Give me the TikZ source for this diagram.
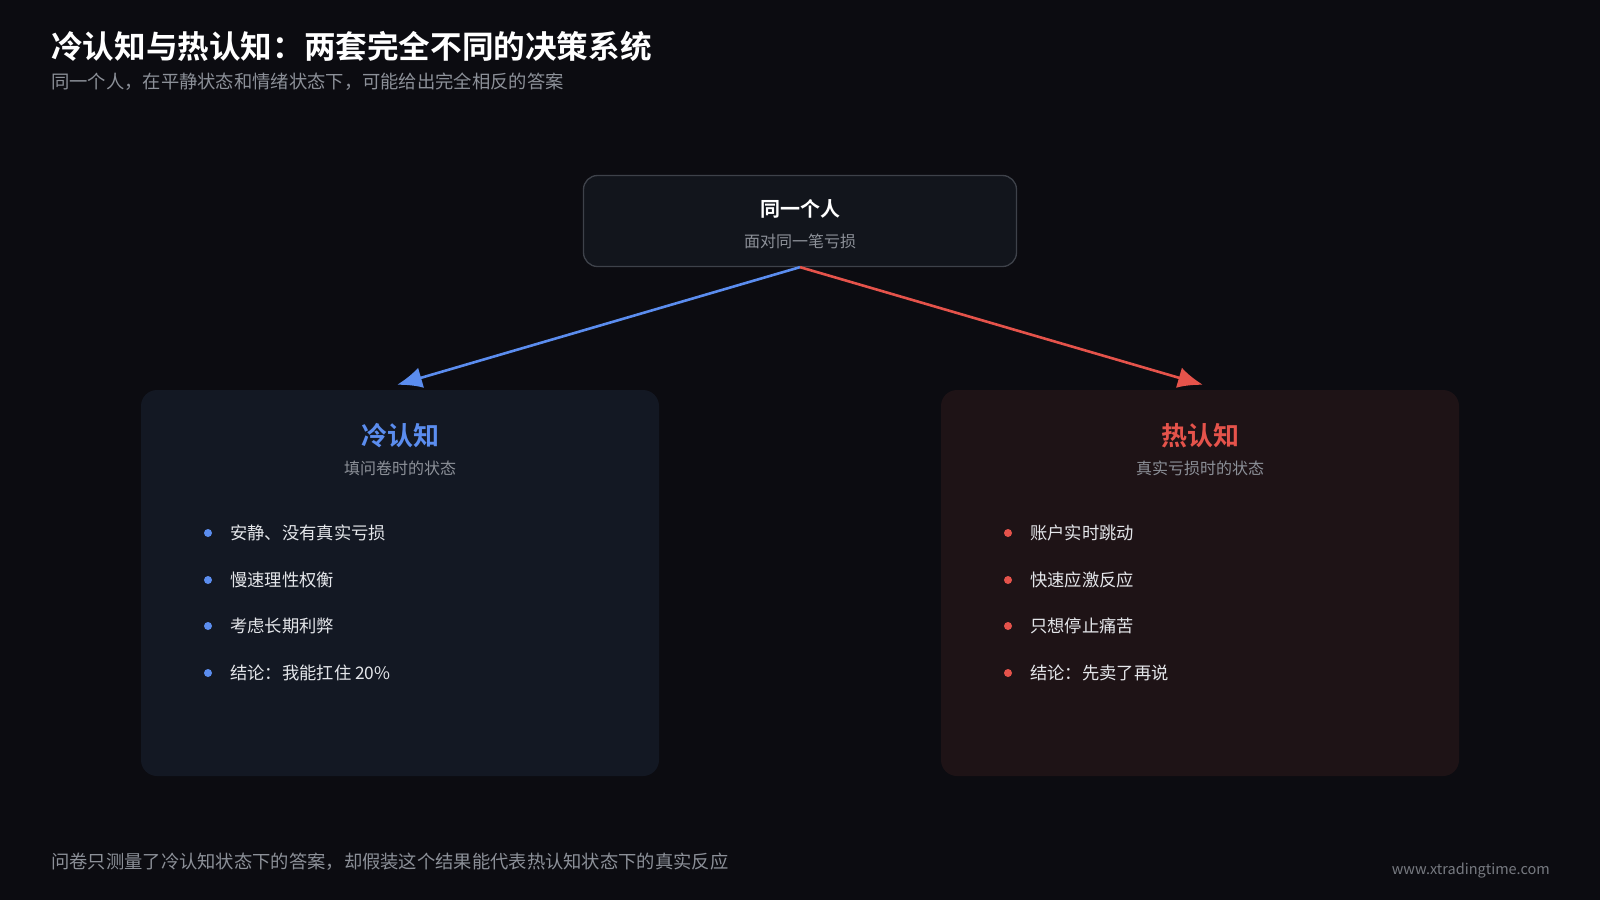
\documentclass[tikz,border=0pt]{standalone}
\usepackage{fontspec}
\setmainfont{Noto Sans CJK SC}[BoldFont={Noto Sans CJK SC Bold}]
\usetikzlibrary{arrows.meta}

\definecolor{bg}{HTML}{0C0C11}
\definecolor{topfill}{HTML}{12151C}
\definecolor{topline}{HTML}{3E424A}
\definecolor{coldfill}{HTML}{131823}
\definecolor{hotfill}{HTML}{1E1316}
\definecolor{coldc}{HTML}{5B8DEF}
\definecolor{hotc}{HTML}{E5534B}
\definecolor{txt}{HTML}{E4E6EA}
\definecolor{muted}{HTML}{8C9098}

\newcommand{\fsz}[1]{\fontsize{#1}{#1}\selectfont}

\tikzset{
  panel/.style={rounded corners=16pt, minimum width=518pt, minimum height=386pt, inner sep=0pt},
  item/.style={anchor=west, inner sep=0pt, text=txt, font=\fsz{17.3}},
  dot/.style={circle, inner sep=0pt, minimum size=8pt},
  link/.style={line width=2.6pt, -{Latex[length=25pt,width=21pt]}},
}

\begin{document}
\begin{tikzpicture}[x=1pt, y=-1pt]
\fill[bg] (0,0) rectangle (1600,900);
\useasboundingbox (0,0) rectangle (1600,900);

% heading
\node[anchor=west, inner sep=0pt, text=white, font=\fsz{31.6}\bfseries] (title) at (51,46) {冷认知与热认知：两套完全不同的决策系统};
\node[anchor=west, inner sep=0pt, text=muted, font=\fsz{18.3}] (subtitle) at (51,82) {同一个人，在平静状态和情绪状态下，可能给出完全相反的答案};

% boxes
\node[draw=topline, line width=1.3pt, fill=topfill, rounded corners=14pt, minimum width=433pt, minimum height=91pt] (top) at (800,221) {};
\node[text=white, font=\fsz{20}\bfseries] (person) at (800,209) {同一个人};
\node[text=muted, font=\fsz{16}] (loss) at (800,241) {面对同一笔亏损};

\node[panel, fill=coldfill] (cold) at (400,583) {};
\node[panel, fill=hotfill] (hot) at (1200,583) {};

\node[text=coldc, font=\fsz{26}\bfseries] (coldt) at (400,436) {冷认知};
\node[text=muted, font=\fsz{16}] (colds) at (400,468) {填问卷时的状态};
\node[text=hotc, font=\fsz{26}\bfseries] (hott) at (1200,436) {热认知};
\node[text=muted, font=\fsz{16}] (hots) at (1200,468) {真实亏损时的状态};

% arrows
\draw[link, coldc] (top.south) -- ([xshift=-3pt, yshift=5pt]cold.north);
\draw[link, hotc] (top.south) -- ([xshift=3pt, yshift=5pt]hot.north);

% cold list
\node[dot, fill=coldc] (cd1) at (208,533) {};
\node[dot, fill=coldc] (cd2) at (208,580) {};
\node[dot, fill=coldc] (cd3) at (208,626) {};
\node[dot, fill=coldc] (cd4) at (208,673) {};
\node[item] (c1) at (230,533) {安静、没有真实亏损};
\node[item] (c2) at (230,580) {慢速理性权衡};
\node[item] (c3) at (230,626) {考虑长期利弊};
\node[item] (c4) at (230,673) {结论：我能扛住 20\%};

% hot list
\node[dot, fill=hotc] (hd1) at (1008,533) {};
\node[dot, fill=hotc] (hd2) at (1008,580) {};
\node[dot, fill=hotc] (hd3) at (1008,626) {};
\node[dot, fill=hotc] (hd4) at (1008,673) {};
\node[item] (h1) at (1030,533) {账户实时跳动};
\node[item] (h2) at (1030,580) {快速应激反应};
\node[item] (h3) at (1030,626) {只想停止痛苦};
\node[item] (h4) at (1030,673) {结论：先卖了再说};

% footer
\node[anchor=west, inner sep=0pt, text=muted, font=\fsz{18.3}] (note) at (51,862) {问卷只测量了冷认知状态下的答案，却假装这个结果能代表热认知状态下的真实反应};
\node[anchor=east, inner sep=0pt, text=muted!85!black, font=\fsz{14.5}] (site) at (1550,871) {www.xtradingtime.com};
\end{tikzpicture}
\end{document}
